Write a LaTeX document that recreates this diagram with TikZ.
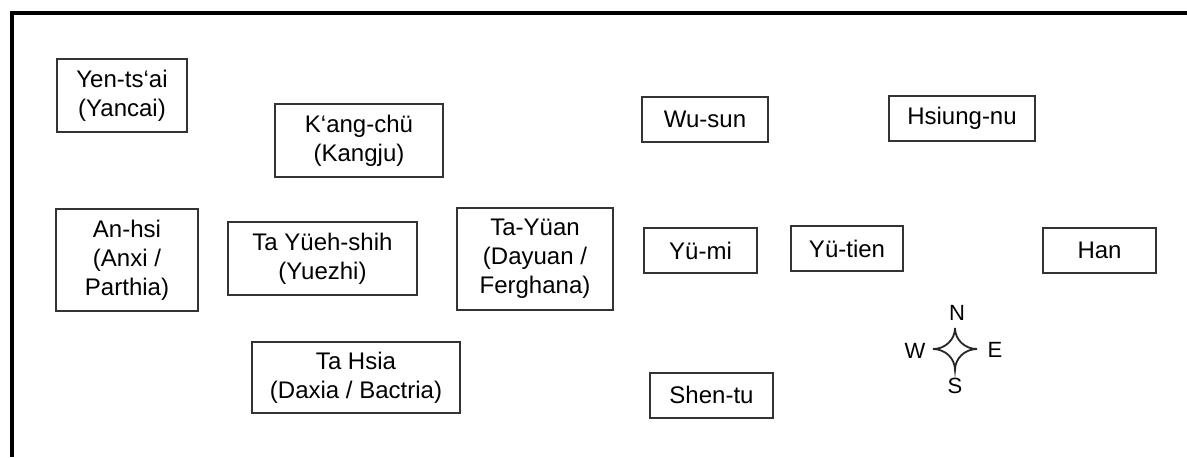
\documentclass[tikz,border=0pt]{standalone}
\usepackage{fontspec}
\setmainfont{Liberation Sans}
\usetikzlibrary{positioning}

\begin{document}
\begin{tikzpicture}[
  x=0.5pt, y=-0.5pt,
  line join=miter,
  region/.style={draw=black!80, line width=1pt, fill=white, align=center,
    inner sep=0pt, font=\fontsize{12}{14.5}\selectfont},
  oneline/.style={region, minimum height=22.5pt},
  twoline/.style={region, minimum height=36.5pt},
  threeline/.style={region, minimum height=51pt},
  dir/.style={inner sep=0pt, font=\fontsize{11}{12}\selectfont}
]

% --- Page and frame ---
\useasboundingbox (0,0) rectangle (1187,457);
\fill[white] (0,0) rectangle (1187,457);
\draw[line width=2.2pt] (12,457) -- (12,13) -- (1187,13);

% --- Top row ---
\node[twoline, minimum width=65pt] (yencai) at (122,95.5) {Yen-ts‘ai\\(Yancai)};
\node[twoline, minimum width=84pt] (kangju) at (359,140.5) {K‘ang-chü\\(Kangju)};
\node[oneline, minimum width=63pt] (wusun) at (705,119.5) {Wu-sun};
\node[oneline, minimum width=73pt] (xiongnu) at (962,118.5) {Hsiung-nu};

% --- Middle row ---
\node[threeline, minimum width=71pt] (anxi) at (127,260) {An-hsi\\(Anxi /\\Parthia)};
\node[twoline, minimum width=94.5pt] (yuezhi) at (322.5,258.5) {Ta Yüeh-shih\\(Yuezhi)};
\node[threeline, minimum width=78pt] (dayuan) at (535,259) {Ta-Yüan\\(Dayuan /\\Ferghana)};
\node[oneline, minimum width=56.5pt] (yumi) at (700.5,250.5) {Yü-mi};
\node[oneline, minimum width=56pt] (yutian) at (847,248.5) {Yü-tien};
\node[oneline, minimum width=56.5pt] (han) at (1099.5,250.5) {Han};

% --- Bottom row ---
\node[twoline, minimum width=104pt, minimum height=35.5pt] (daxia) at (356,377.5) {Ta Hsia\\(Daxia / Bactria)};
\node[oneline, minimum width=61.5pt] (shendu) at (711.5,395) {Shen-tu};

% --- Compass ---
\coordinate (compass) at (955,349);
\begin{scope}[shift={(compass)}]
  \draw[line width=0.9pt, black!85]
    (0,-21) to[out=-90,in=180] (22,0)
            to[out=180,in=90] (0,21)
            to[out=90,in=0] (-22,0)
            to[out=0,in=-90] (0,-21);
\end{scope}
\node[dir] (north) at (957,313) {N};
\node[dir] (south) at (955,386) {S};
\node[dir] (west) at (915,351) {W};
\node[dir] (east) at (995,350) {E};
\end{tikzpicture}
\end{document}
